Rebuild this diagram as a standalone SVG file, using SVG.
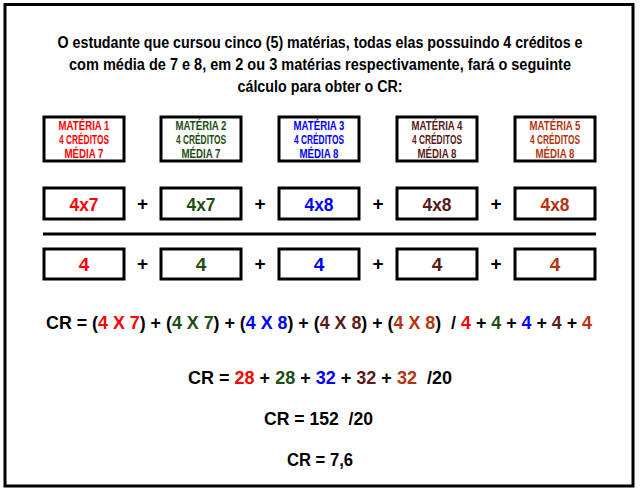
<svg xmlns="http://www.w3.org/2000/svg" width="640" height="492" viewBox="0 0 640 492">
<style>
text{font-family:"Liberation Sans",Arial,sans-serif;font-weight:bold;fill:#000;white-space:pre}
.c{text-anchor:middle}
.sm{font-size:12px}
.bx{fill:#fff;stroke:#000;stroke-width:3}
.big{font-size:19px}
.r{fill:#FF0000}.g{fill:#1E4D12}.b{fill:#0000FF}.m{fill:#5B1A1A}.o{fill:#B5330E}
</style>
<rect x="0" y="0" width="640" height="492" fill="#fff"/>
<rect x="5" y="4.5" width="628" height="481.5" fill="#fff" stroke="#000" stroke-width="3"/>
<g id="intro" font-size="16">
<text class="c" x="320" y="48" textLength="525" lengthAdjust="spacingAndGlyphs">O estudante que cursou cinco (5) matérias, todas elas possuindo 4 créditos e</text>
<text class="c" x="320" y="70" textLength="502" lengthAdjust="spacingAndGlyphs">com média de 7 e 8, em 2 ou 3 matérias respectivamente, fará o seguinte</text>
<text class="c" x="320" y="92" textLength="165" lengthAdjust="spacingAndGlyphs">cálculo para obter o CR:</text>
</g>
<g id="materia1"><rect class="bx" x="44" y="117" width="80" height="44"/>
<text class="c sm r" x="84" y="130" textLength="51" lengthAdjust="spacingAndGlyphs">MATÉRIA 1</text>
<text class="c sm r" x="84" y="144" textLength="50" lengthAdjust="spacingAndGlyphs">4 CRÉDITOS</text>
<text class="c sm r" x="84" y="158" textLength="39" lengthAdjust="spacingAndGlyphs">MÉDIA 7</text></g>
<g id="materia2"><rect class="bx" x="161" y="117" width="80" height="44"/>
<text class="c sm g" x="201" y="130" textLength="51" lengthAdjust="spacingAndGlyphs">MATÉRIA 2</text>
<text class="c sm g" x="201" y="144" textLength="50" lengthAdjust="spacingAndGlyphs">4 CRÉDITOS</text>
<text class="c sm g" x="201" y="158" textLength="39" lengthAdjust="spacingAndGlyphs">MÉDIA 7</text></g>
<g id="materia3"><rect class="bx" x="279" y="117" width="80" height="44"/>
<text class="c sm b" x="319" y="130" textLength="51" lengthAdjust="spacingAndGlyphs">MATÉRIA 3</text>
<text class="c sm b" x="319" y="144" textLength="50" lengthAdjust="spacingAndGlyphs">4 CRÉDITOS</text>
<text class="c sm b" x="319" y="158" textLength="39" lengthAdjust="spacingAndGlyphs">MÉDIA 8</text></g>
<g id="materia4"><rect class="bx" x="397" y="117" width="80" height="44"/>
<text class="c sm m" x="437" y="130" textLength="51" lengthAdjust="spacingAndGlyphs">MATÉRIA 4</text>
<text class="c sm m" x="437" y="144" textLength="50" lengthAdjust="spacingAndGlyphs">4 CRÉDITOS</text>
<text class="c sm m" x="437" y="158" textLength="39" lengthAdjust="spacingAndGlyphs">MÉDIA 8</text></g>
<g id="materia5"><rect class="bx" x="515" y="117" width="80" height="44"/>
<text class="c sm o" x="555" y="130" textLength="51" lengthAdjust="spacingAndGlyphs">MATÉRIA 5</text>
<text class="c sm o" x="555" y="144" textLength="50" lengthAdjust="spacingAndGlyphs">4 CRÉDITOS</text>
<text class="c sm o" x="555" y="158" textLength="39" lengthAdjust="spacingAndGlyphs">MÉDIA 8</text></g>
<g id="numerators">
<rect class="bx" x="44" y="188" width="80" height="31"/><text class="c big r" x="84" y="211" textLength="29" lengthAdjust="spacingAndGlyphs">4x7</text>
<rect class="bx" x="161" y="188" width="80" height="31"/><text class="c big g" x="201" y="211" textLength="29" lengthAdjust="spacingAndGlyphs">4x7</text>
<rect class="bx" x="279" y="188" width="80" height="31"/><text class="c big b" x="319" y="211" textLength="29" lengthAdjust="spacingAndGlyphs">4x8</text>
<rect class="bx" x="397" y="188" width="80" height="31"/><text class="c big m" x="437" y="211" textLength="29" lengthAdjust="spacingAndGlyphs">4x8</text>
<rect class="bx" x="515" y="188" width="80" height="31"/><text class="c big o" x="555" y="211" textLength="29" lengthAdjust="spacingAndGlyphs">4x8</text>
<text class="c big" x="142.5" y="210">+</text><text class="c big" x="260" y="210">+</text><text class="c big" x="378" y="210">+</text><text class="c big" x="496" y="210">+</text>
</g>
<line id="fraction" x1="43" y1="234" x2="596" y2="234" stroke="#000" stroke-width="3"/>
<g id="denominators">
<rect class="bx" x="44" y="249" width="80" height="30"/><text class="c big r" x="84" y="271">4</text>
<rect class="bx" x="161" y="249" width="80" height="30"/><text class="c big g" x="201" y="271">4</text>
<rect class="bx" x="279" y="249" width="80" height="30"/><text class="c big b" x="319" y="271">4</text>
<rect class="bx" x="397" y="249" width="80" height="30"/><text class="c big m" x="437" y="271">4</text>
<rect class="bx" x="515" y="249" width="80" height="30"/><text class="c big o" x="555" y="271">4</text>
<text class="c big" x="142.5" y="270">+</text><text class="c big" x="260" y="270">+</text><text class="c big" x="378" y="270">+</text><text class="c big" x="496" y="270">+</text>
</g>
<g id="formulas" font-size="19">
<text x="46" y="329" textLength="546" lengthAdjust="spacingAndGlyphs">CR = (<tspan class="r">4 X 7</tspan>) + (<tspan class="g">4 X 7</tspan>) + (<tspan class="b">4 X 8</tspan>) + (<tspan class="m">4 X 8</tspan>) + (<tspan class="o">4 X 8</tspan>)  / <tspan class="r">4</tspan> + <tspan class="g">4</tspan> + <tspan class="b">4</tspan> + <tspan class="m">4</tspan> + <tspan class="o">4</tspan></text>
<text x="188" y="384" textLength="264" lengthAdjust="spacingAndGlyphs">CR = <tspan class="r">28</tspan> + <tspan class="g">28</tspan> + <tspan class="b">32</tspan> + <tspan class="m">32</tspan> + <tspan class="o">32</tspan>  /20</text>
<text x="264" y="425" textLength="109" lengthAdjust="spacingAndGlyphs">CR = 152  /20</text>
<text x="287" y="466" textLength="66" lengthAdjust="spacingAndGlyphs">CR = 7,6</text>
</g>
</svg>
